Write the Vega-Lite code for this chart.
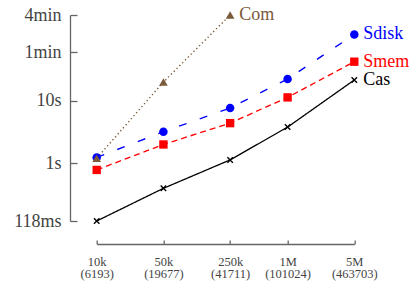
{
  "$schema": "https://vega.github.io/schema/vega-lite/v6.json",
  "autosize": "none",
  "width": 257.6,
  "height": 206,
  "padding": {"left": 96.7, "top": 15, "right": 57.7, "bottom": 65},
  "background": "white",
  "config": {"view": {"stroke": null}, "font": "Liberation Serif"},
  "data": {"values": [
    {"series": "Cas", "n": 10000, "t": 0.118},
    {"series": "Cas", "n": 50000, "t": 0.395},
    {"series": "Cas", "n": 250000, "t": 1.13},
    {"series": "Cas", "n": 1000000, "t": 3.8},
    {"series": "Cas", "n": 5000000, "t": 21.7},
    {"series": "Smem", "n": 10000, "t": 0.78},
    {"series": "Smem", "n": 50000, "t": 2.0},
    {"series": "Smem", "n": 250000, "t": 4.4},
    {"series": "Smem", "n": 1000000, "t": 11.4},
    {"series": "Smem", "n": 5000000, "t": 42.7},
    {"series": "Sdisk", "n": 10000, "t": 1.24},
    {"series": "Sdisk", "n": 50000, "t": 3.2},
    {"series": "Sdisk", "n": 250000, "t": 7.7},
    {"series": "Sdisk", "n": 1000000, "t": 22.5},
    {"series": "Sdisk", "n": 5000000, "t": 117},
    {"series": "Com", "n": 10000, "t": 1.2},
    {"series": "Com", "n": 50000, "t": 20.1},
    {"series": "Com", "n": 250000, "t": 240}
  ]},
  "encoding": {
    "x": {"field": "n", "type": "quantitative",
      "scale": {"type": "log", "domain": [9999, 5000200], "nice": false},
      "axis": {"values": [10000, 50000, 250000, 1000000, 5000000], "title": null, "grid": false,
        "offset": 23, "tickSize": -4, "labelPadding": 15, "domainColor": "#666", "tickColor": "#666",
        "domainWidth": 1.3, "tickWidth": 1.3, "labelColor": "#444", "labelFontSize": 12.5, "labelFont": "Liberation Serif",
        "labelLineHeight": 12, "labelOverlap": false, "labelBound": false, "labelFlush": false,
        "labelExpr": "datum.value == 10000 ? ['10k','(6193)'] : datum.value == 50000 ? ['50k','(19677)'] : datum.value == 250000 ? ['250k','(41711)'] : datum.value == 1000000 ? ['1M','(101024)'] : ['5M','(463703)']"}},
    "y": {"field": "t", "type": "quantitative",
      "scale": {"type": "log", "domain": [0.118, 240], "nice": false},
      "axis": {"values": [0.118, 1, 10, 60, 240], "title": null, "grid": false,
        "offset": 26.7, "tickSize": -7, "labelPadding": 16, "domainColor": "#666", "tickColor": "#666",
        "domainWidth": 1.3, "tickWidth": 1.3, "labelColor": "#444", "labelFontSize": 18, "labelFont": "Liberation Serif",
        "labelOverlap": false, "labelFlush": false,
        "labelExpr": "datum.value == 0.118 ? '118ms' : datum.value == 1 ? '1s' : datum.value == 10 ? '10s' : datum.value == 60 ? '1min' : '4min'"}},
    "color": {"field": "series", "type": "nominal",
      "scale": {"domain": ["Cas", "Smem", "Sdisk", "Com"], "range": ["#000000", "#ff0000", "#0000ff", "#7a5a3a"]},
      "legend": null}
  },
  "layer": [
    {"mark": {"type": "line", "clip": false},
      "encoding": {
        "strokeDash": {"field": "series", "type": "nominal",
          "scale": {"domain": ["Cas", "Smem", "Sdisk", "Com"], "range": [[1, 0], [6, 4], [8, 14], [1.3, 2.7]]}, "legend": null},
        "strokeWidth": {"field": "series", "type": "nominal",
          "scale": {"domain": ["Cas", "Smem", "Sdisk", "Com"], "range": [1.3, 1.4, 1.4, 1.7]}, "legend": null}}},
    {"transform": [{"filter": "datum.series != 'Cas'"}],
      "mark": {"type": "point", "filled": true, "opacity": 1, "clip": false},
      "encoding": {
        "shape": {"field": "series", "type": "nominal", "scale": {"domain": ["Smem", "Sdisk", "Com"], "range": ["square", "circle", "triangle-up"]}, "legend": null},
        "size": {"field": "series", "type": "nominal", "scale": {"domain": ["Smem", "Sdisk", "Com"], "range": [70, 75, 50]}, "legend": null}}},
    {"transform": [{"filter": "datum.series == 'Cas'"}],
      "mark": {"type": "point", "filled": false, "opacity": 1, "shape": "M-1,-1L1,1M-1,1L1,-1", "size": 30, "strokeWidth": 1.4, "clip": false}},
    {"transform": [{"filter": "(datum.series == 'Com' && datum.n == 250000) || (datum.series != 'Com' && datum.n == 5000000)"}],
      "mark": {"type": "text", "align": "left", "baseline": "middle", "dx": 9, "fontSize": 18, "font": "Liberation Serif", "clip": false},
      "encoding": {"text": {"field": "series", "type": "nominal"}}}
  ]
}
